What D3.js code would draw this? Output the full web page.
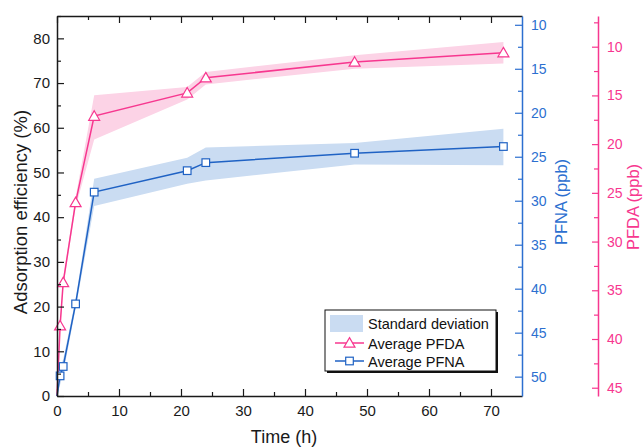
<!DOCTYPE html>
<html>
<head>
<meta charset="utf-8">
<script src="https://cdn.jsdelivr.net/npm/d3@7"></script>
<style>
  body { margin: 0; background: #fff; }
  svg { display: block; font-family: "Liberation Sans", Arial, sans-serif; }
</style>
</head>
<body>
<div id="chart"></div>
<script>
// sampling times (h)
const times = [0, 0.5, 1, 3, 6, 21, 24, 48, 72];

// average PFDA adsorption efficiency (%) and its std band
const pfdaMean  = [0, 15.7, 25.4, 43.3, 62.6, 67.8, 71.2, 74.7, 76.8];
const pfdaLower = [0, 14.6, 24.4, 42.2, 57.4, 66.3, 69.7, 73.2, 74.4];
const pfdaUpper = [0, 16.8, 26.4, 44.4, 67.3, 69.1, 72.5, 76.2, 79.2];

// average PFNA adsorption efficiency (%) and its std band
const pfnaMean  = [0, 4.5, 6.6, 20.6, 45.6, 50.4, 52.2, 54.3, 55.8];
const pfnaLower = [0, 2.5, 5.0, 19.6, 42.5, 47.5, 48.2, 51.8, 51.6];
const pfnaUpper = [0, 6.5, 8.2, 21.6, 48.6, 53.3, 55.6, 56.6, 59.8];

// tick values
const xTicks      = [0, 10, 20, 30, 40, 50, 60, 70];
const effTicks    = [0, 10, 20, 30, 40, 50, 60, 70, 80];
const pfnaTicks   = [10, 15, 20, 25, 30, 35, 40, 45, 50];
const pfdaTicks   = [10, 15, 20, 25, 30, 35, 40, 45];

const PINK = "#f7378f";
const PINK_BAND = "#fcd3e6";
const BLUE = "#1f62c4";
const BLUE_AXIS = "#2c6fd0";
const BLUE_BAND = "#cadcf2";

const width = 644, height = 447;
const L = 57, R = 522, T = 16, B = 396;
const pinkAxisX = 598;

const svg = d3.select("#chart").append("svg")
  .attr("width", width)
  .attr("height", height);

// scales
const x = d3.scaleLinear().domain([0, 75]).range([L, R]);
const y = d3.scaleLinear().domain([0, 85]).range([B, T]);
const yNA = d3.scaleLinear().domain([9, 52.2]).range([T, B]);
const yDA = d3.scaleLinear().domain([6.85, 45.85]).range([T, B]);

const rows = times.map((t, i) => ({
  t,
  da: pfdaMean[i], daLo: pfdaLower[i], daHi: pfdaUpper[i],
  na: pfnaMean[i], naLo: pfnaLower[i], naHi: pfnaUpper[i]
}));

// std bands
const areaDA = d3.area().x(d => x(d.t)).y0(d => y(d.daLo)).y1(d => y(d.daHi));
const areaNA = d3.area().x(d => x(d.t)).y0(d => y(d.naLo)).y1(d => y(d.naHi));

svg.append("path").datum(rows).attr("d", areaDA).attr("fill", PINK_BAND);
svg.append("path").datum(rows).attr("d", areaNA).attr("fill", BLUE_BAND);

// lines
const lineDA = d3.line().x(d => x(d.t)).y(d => y(d.da));
const lineNA = d3.line().x(d => x(d.t)).y(d => y(d.na));

svg.append("path").datum(rows).attr("d", lineDA)
  .attr("fill", "none").attr("stroke", PINK).attr("stroke-width", 1.5);
svg.append("path").datum(rows).attr("d", lineNA)
  .attr("fill", "none").attr("stroke", BLUE).attr("stroke-width", 1.5);

// markers (none drawn at t = 0)
const marked = rows.filter(d => d.t > 0);
const tri = d3.symbol().type(d3.symbolTriangle).size(52);

svg.selectAll("path.tri").data(marked).enter().append("path")
  .attr("class", "tri")
  .attr("d", tri)
  .attr("transform", d => `translate(${x(d.t)},${y(d.da) + 1})`)
  .attr("fill", "white").attr("stroke", PINK).attr("stroke-width", 1.2);

svg.selectAll("rect.sq").data(marked).enter().append("rect")
  .attr("class", "sq")
  .attr("x", d => x(d.t) - 3.8).attr("y", d => y(d.na) - 3.8)
  .attr("width", 7.6).attr("height", 7.6)
  .attr("fill", "white").attr("stroke", BLUE).attr("stroke-width", 1.2);

// helpers for axes
function style(g, color, size) {
  g.select(".domain").attr("stroke", color).attr("stroke-width", 1.5);
  g.selectAll(".tick line").attr("stroke", color).attr("stroke-width", 1.2);
  g.selectAll("text").attr("fill", color).style("font-size", size + "px")
    .style("font-family", "'Liberation Sans', Arial, sans-serif");
}
function minors(lo, hi, step) {
  const out = [];
  for (let v = lo; v <= hi + 1e-9; v += step) out.push(v);
  return out;
}

// bottom axis
const gx = svg.append("g").attr("transform", `translate(0,${B})`)
  .call(d3.axisBottom(x).tickValues(xTicks).tickSize(-7).tickSizeOuter(0).tickPadding(9));
style(gx, "#1a1a1a", 15);
svg.append("g").attr("transform", `translate(0,${B})`)
  .call(d3.axisBottom(x).tickValues(minors(5, 70, 10)).tickSize(-4).tickFormat(""))
  .call(g => g.select(".domain").remove())
  .selectAll("line").attr("stroke", "#1a1a1a").attr("stroke-width", 1.2);

// top frame with mirrored ticks
const gt = svg.append("g").attr("transform", `translate(0,${T})`)
  .call(d3.axisTop(x).tickValues(xTicks).tickSize(-7).tickSizeOuter(0).tickFormat(""));
style(gt, "#1a1a1a", 15);
svg.append("g").attr("transform", `translate(0,${T})`)
  .call(d3.axisTop(x).tickValues(minors(5, 70, 10)).tickSize(-4).tickFormat(""))
  .call(g => g.select(".domain").remove())
  .selectAll("line").attr("stroke", "#1a1a1a").attr("stroke-width", 1.2);

// left axis
const gy = svg.append("g").attr("transform", `translate(${L},0)`)
  .call(d3.axisLeft(y).tickValues(effTicks).tickSize(-7).tickSizeOuter(0).tickPadding(7));
style(gy, "#1a1a1a", 15);
svg.append("g").attr("transform", `translate(${L},0)`)
  .call(d3.axisLeft(y).tickValues(minors(5, 85, 10)).tickSize(-4).tickFormat(""))
  .call(g => g.select(".domain").remove())
  .selectAll("line").attr("stroke", "#1a1a1a").attr("stroke-width", 1.2);

// PFNA axis (right frame)
const gna = svg.append("g").attr("transform", `translate(${R},0)`)
  .call(d3.axisRight(yNA).tickValues(pfnaTicks).tickSize(-7).tickSizeOuter(0).tickPadding(9));
style(gna, BLUE_AXIS, 14);
svg.append("g").attr("transform", `translate(${R},0)`)
  .call(d3.axisRight(yNA).tickValues(minors(12.5, 52.2, 5)).tickSize(-4).tickFormat(""))
  .call(g => g.select(".domain").remove())
  .selectAll("line").attr("stroke", BLUE_AXIS).attr("stroke-width", 1.2);

// PFDA axis (offset)
const gda = svg.append("g").attr("transform", `translate(${pinkAxisX},0)`)
  .call(d3.axisRight(yDA).tickValues(pfdaTicks).tickSize(-6).tickSizeOuter(0).tickPadding(9));
style(gda, PINK, 14);
svg.append("g").attr("transform", `translate(${pinkAxisX},0)`)
  .call(d3.axisRight(yDA).tickValues(minors(7.5, 45, 5)).tickSize(-4).tickFormat(""))
  .call(g => g.select(".domain").remove())
  .selectAll("line").attr("stroke", PINK).attr("stroke-width", 1.2);

// axis titles
svg.append("text")
  .attr("transform", `translate(27,${(T + B) / 2 + 6}) rotate(-90)`)
  .attr("text-anchor", "middle")
  .style("font-size", "18.5px").attr("fill", "#1a1a1a")
  .text("Adsorption efficiency (%)");

svg.append("text")
  .attr("x", 284).attr("y", 443)
  .attr("text-anchor", "middle")
  .style("font-size", "18px").attr("fill", "#1a1a1a")
  .text("Time (h)");

svg.append("text")
  .attr("transform", `translate(567,202) rotate(-90)`)
  .attr("text-anchor", "middle")
  .style("font-size", "16.5px").attr("fill", BLUE_AXIS)
  .text("PFNA (ppb)");

svg.append("text")
  .attr("transform", `translate(639,207) rotate(-90)`)
  .attr("text-anchor", "middle")
  .style("font-size", "16.5px").attr("fill", PINK)
  .text("PFDA (ppb)");

// legend
const lg = svg.append("g").attr("transform", "translate(325,310)");
lg.append("rect").attr("x", 2).attr("y", 2).attr("width", 171).attr("height", 61).attr("fill", "#111");
lg.append("rect").attr("width", 171).attr("height", 61)
  .attr("fill", "white").attr("stroke", "#111").attr("stroke-width", 1);

lg.append("rect").attr("x", 5).attr("y", 5).attr("width", 33).attr("height", 17).attr("fill", BLUE_BAND);
lg.append("text").attr("x", 43).attr("y", 18.5).style("font-size", "14.5px").attr("fill", "#111")
  .text("Standard deviation");

lg.append("line").attr("x1", 10).attr("x2", 39).attr("y1", 33).attr("y2", 33)
  .attr("stroke", PINK).attr("stroke-width", 1.5);
lg.append("path").attr("d", tri).attr("transform", "translate(24.5,34)")
  .attr("fill", "white").attr("stroke", PINK).attr("stroke-width", 1.2);
lg.append("text").attr("x", 43).attr("y", 38.5).style("font-size", "14.5px").attr("fill", "#111")
  .text("Average PFDA");

lg.append("line").attr("x1", 10).attr("x2", 39).attr("y1", 51).attr("y2", 51)
  .attr("stroke", BLUE).attr("stroke-width", 1.5);
lg.append("rect").attr("x", 24.5 - 3.8).attr("y", 51 - 3.8).attr("width", 7.6).attr("height", 7.6)
  .attr("fill", "white").attr("stroke", BLUE).attr("stroke-width", 1.2);
lg.append("text").attr("x", 43).attr("y", 56.5).style("font-size", "14.5px").attr("fill", "#111")
  .text("Average PFNA");
</script>
</body>
</html>
